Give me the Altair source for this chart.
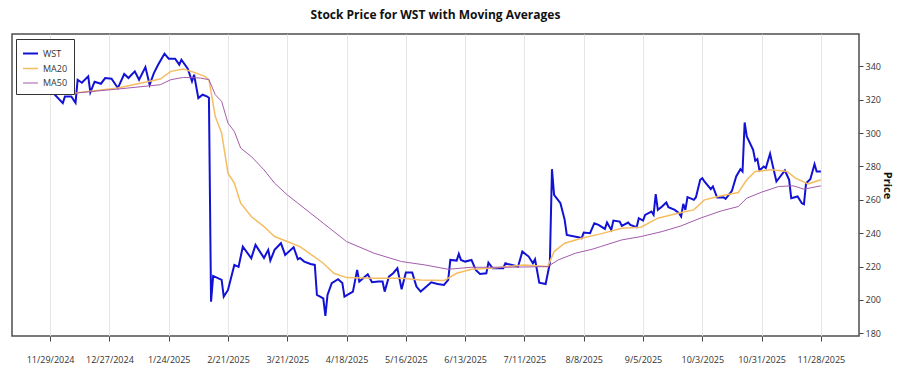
import altair as alt
import pandas as pd

START = "2024-11-29"

# WST closing price: days after 11/29/2024 and price
wst_days = [0, 6, 7, 10, 12, 13, 15, 18, 19, 21,
            24, 26, 29, 32, 35, 37, 40, 42, 45, 47,
            49, 51, 54, 56, 59, 60, 61, 62, 65, 67,
            68, 70, 72, 74, 75, 76, 77, 81, 82, 84,
            87, 89, 91, 95, 97, 101, 103, 104, 106, 109,
            111, 115, 117, 118, 120, 123, 125, 126, 129, 130,
            131, 133, 136, 138, 139, 143, 145, 146, 150, 152,
            155, 157, 158, 160, 162, 164, 166, 168, 171, 173,
            175, 180, 183, 186, 188, 189, 192, 193, 194, 196,
            199, 201, 203, 206, 207, 209, 214, 215, 216, 221,
            223, 226, 228, 229, 231, 234, 236, 237, 238, 241,
            243, 244, 250, 251, 252, 255, 257, 259, 262, 263,
            265, 266, 269, 270, 273, 274, 277, 278, 280, 281,
            284, 285, 286, 287, 289, 291, 292, 295, 297, 298,
            299, 300, 301, 303, 304, 305, 307, 308, 309, 312,
            313, 315, 318, 319, 322, 324, 326, 327, 328, 329,
            332, 333, 334, 335, 337, 338, 340, 341, 343, 347,
            349, 350, 353, 355, 356, 357, 359, 361, 362, 364]
wst_price = [326, 318, 322, 322, 318.2, 332, 330.2, 334, 324.4, 330.8,
             329.6, 333, 332.6, 327, 335.4, 333, 337, 332, 339.6, 329,
             336, 341, 347.6, 344.6, 344.6, 342.8, 341, 344, 338.6, 331,
             335, 321, 323, 322, 321.2, 199, 214.4, 212, 202, 206,
             221, 219.8, 232, 225, 233, 225.2, 230, 223.6, 230, 234,
             227, 231.6, 224.4, 225.2, 223, 221.6, 221, 203, 201, 190.4,
             203, 210, 212.4, 210.2, 202, 205, 218, 211, 215.4, 210.6,
             211, 211, 205, 214, 216, 219, 206.4, 216.4, 216.4, 208,
             205, 210.6, 209.6, 209, 212, 224, 223.6, 227.6, 224, 223,
             224, 218, 215.6, 216, 222.4, 219, 219, 222, 221.6, 220,
             229, 226, 222, 224.4, 210.4, 209.6, 222, 278.4, 263, 258,
             248, 239, 237.4, 237, 240.4, 240, 246, 245, 242.6, 246.4,
             242, 247.6, 247, 244.4, 246.4, 245, 243.6, 249, 247.6, 251,
             253, 251, 263.4, 254, 256, 258.4, 255.6, 254, 252, 250,
             257.6, 254, 261.6, 260.6, 260, 261.6, 272, 273, 271, 266.4,
             268, 261.4, 261.6, 260.6, 265.4, 274, 278.4, 277, 306.4, 298,
             290, 283.4, 284.4, 277.6, 280, 279, 287.6, 282, 271, 277.6,
             272, 261, 262, 258, 257.4, 270, 272.4, 281.4, 277, 277]

ma20_days = [0, 12, 32, 52, 57, 63, 68, 73, 75, 78,
             81, 84, 87, 90, 95, 101, 106, 112, 118, 129, 134,
             140, 153, 166, 175, 186, 192, 199, 208, 224, 235,
             238, 243, 251, 260, 270, 279, 287, 298, 304, 309,
             317, 325, 329, 333, 341, 348, 352, 358, 364]
ma20_price = [325.4, 324, 327, 332.4, 337, 338.4, 336.4, 334, 332, 310,
              300, 276, 270, 258, 250, 244, 238, 235, 232, 222, 216,
              213.4, 213, 213, 212, 211.6, 216, 218.4, 219, 221, 220,
              229, 234, 237, 239.6, 243, 243.6, 249, 252.4, 254, 260,
              262.4, 264.4, 272, 277, 278, 277, 273, 269.6, 272]

ma50_days = [0, 12, 32, 52, 57, 63, 71, 75, 78, 81,
             84, 87, 90, 95, 101, 106, 112, 118, 129, 140,
             153, 166, 177, 188, 199, 216, 235, 240, 248, 256,
             260, 270, 279, 289, 298, 307, 317, 325, 329, 336,
             344, 351, 356, 364]
ma50_price = [324.8, 324, 326.4, 329, 332, 333.4, 333, 332, 323, 319,
              306, 301, 291, 286, 278, 270, 263, 257, 246, 235,
              228, 223, 221, 218.4, 219.6, 219.6, 220, 224, 228, 230.4,
              232, 236, 238, 241, 244.4, 249, 253.4, 256, 261, 264.6,
              268, 268.4, 266.4, 268.4]

tick_labels = ["2024-11-29", "2024-12-27", "2025-01-24", "2025-02-21",
               "2025-03-21", "2025-04-18", "2025-05-16", "2025-06-13",
               "2025-07-11", "2025-08-08", "2025-09-05", "2025-10-03",
               "2025-10-31", "2025-11-28"]
y_ticks = [180, 200, 220, 240, 260, 280, 300, 320, 340]

series_names = ["WST", "MA20", "MA50"]
series_colors = ["#1212d4", "#f5bd62", "#a45cac"]
series_widths = [2, 1, 1]


def frame(name, days, vals):
    d = pd.Timestamp(START) + pd.to_timedelta(days, unit="D")
    return pd.DataFrame({"date": d.strftime("%Y-%m-%d"), "price": vals, "series": name})


df = pd.concat([
    frame("WST", wst_days, wst_price),
    frame("MA20", ma20_days, ma20_price),
    frame("MA50", ma50_days, ma50_price),
], ignore_index=True)


def dt(s):
    y, m, d = (int(v) for v in s.split("-"))
    return alt.DateTime(year=y, month=m, date=d, utc=True)


FONT = "Open Sans"

legend_params = dict(
    title=None, orient="none", legendX=4, legendY=5,
    fillColor="white", strokeColor="#333333", padding=6,
    symbolType="stroke", symbolSize=225, labelFont=FONT, labelFontSize=9,
    labelColor="#333333", rowPadding=1, labelOffset=4, cornerRadius=0,
)

chart = alt.Chart(df).mark_line().encode(
    x=alt.X(
        "date:T",
        scale=alt.Scale(type="utc", domain=[dt("2024-11-11"), dt("2025-12-16")]),
        axis=alt.Axis(
            values=[dt(s) for s in tick_labels],
            labelExpr="utcFormat(datum.value, '%-m/%-d/%Y')",
            title=None, grid=True, gridColor="#e6e6e6", tickSize=5, labelPadding=14,
            labelFontSize=9, labelColor="#333333", tickColor="#444444", domain=False,
            labelFont=FONT,
        ),
    ),
    y=alt.Y(
        "price:Q",
        scale=alt.Scale(domain=[178.4, 359.4], nice=False, zero=False),
        axis=alt.Axis(
            orient="right", values=y_ticks, title="Price", titleAngle=90,
            titleFont=FONT, titleFontSize=11, titleFontWeight="bold", titleColor="#111111",
            titlePadding=1, grid=False, tickSize=4, labelPadding=2, labelFontSize=9,
            labelColor="#333333", tickColor="#444444", domain=False, labelFont=FONT,
        ),
    ),
    color=alt.Color("series:N", scale=alt.Scale(domain=series_names, range=series_colors),
                    legend=alt.Legend(**legend_params)),
    strokeWidth=alt.StrokeWidth("series:N", scale=alt.Scale(domain=series_names, range=series_widths),
                                legend=alt.Legend(**legend_params)),
).properties(
    width=847,
    height=302,
    autosize=alt.AutoSizeParams(type="none"),
    padding={"left": 12, "top": 34, "right": 41, "bottom": 39},
    title=alt.TitleParams(
        "Stock Price for WST with Moving Averages", font=FONT, fontSize=12,
        fontWeight="bold", color="#111111", anchor="middle", offset=12,
    ),
).configure_view(
    stroke="#4d4d4d", strokeWidth=1.5
)

chart.save("out.html", embed_options={"renderer": "svg", "actions": False})
